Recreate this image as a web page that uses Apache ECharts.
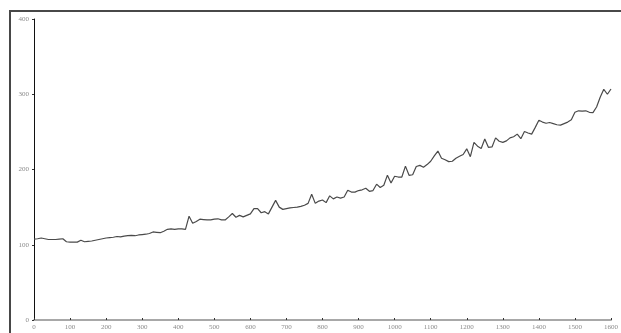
<!DOCTYPE html>
<html>
<head>
<meta charset="utf-8">
<style>
  html, body { margin: 0; padding: 0; background: #fff; }
  #chart { width: 621px; height: 333px; }
</style>
<script src="https://cdn.jsdelivr.net/npm/echarts@6/dist/echarts.min.js"></script>
</head>
<body>
<div id="chart"></div>
<script>
// Sample positions along the horizontal axis
const xValues = [
  0, 10, 20, 30, 40, 50, 60, 70, 80, 90,
  100, 110, 120, 130, 140, 150, 160, 170, 180, 190,
  200, 210, 220, 230, 240, 250, 260, 270, 280, 290,
  300, 310, 320, 330, 340, 350, 360, 370, 380, 390,
  400, 410, 420, 430, 440, 450, 460, 470, 480, 490,
  500, 510, 520, 530, 540, 550, 560, 570, 580, 590,
  600, 610, 620, 630, 640, 650, 660, 670, 680, 690,
  700, 710, 720, 730, 740, 750, 760, 770, 780, 790,
  800, 810, 820, 830, 840, 850, 860, 870, 880, 890,
  900, 910, 920, 930, 940, 950, 960, 970, 980, 990,
  1000, 1010, 1020, 1030, 1040, 1050, 1060, 1070, 1080, 1090,
  1100, 1110, 1120, 1130, 1140, 1150, 1160, 1170, 1180, 1190,
  1200, 1210, 1220, 1230, 1240, 1250, 1260, 1270, 1280, 1290,
  1300, 1310, 1320, 1330, 1340, 1350, 1360, 1370, 1380, 1390,
  1400, 1410, 1420, 1430, 1440, 1450, 1460, 1470, 1480, 1490,
  1500, 1510, 1520, 1530, 1540, 1550, 1560, 1570, 1580, 1590,
  1600
];

// Measured values at each position
const yValues = [
  107.6, 108, 109, 108, 107, 107, 107, 107.5, 108, 104,
  103.5, 103.5, 103.5, 106, 104, 104.5, 105, 106, 107, 108,
  109, 109.5, 110, 111, 110.5, 111.5, 112, 112.5, 112, 113,
  113.5, 114, 115, 117, 116.5, 116, 118, 120.5, 121, 120.5,
  121, 121, 120.5, 138, 128.5, 131, 134, 133.5, 133, 133,
  134, 134.5, 133, 133, 137, 141.5, 136.5, 139, 137, 139,
  141, 148, 148, 142.5, 144, 141, 150, 159, 150, 147,
  148, 149, 149.5, 150, 151, 152.5, 155, 167, 155, 158,
  159.5, 156, 165, 161, 163.5, 162, 163.5, 172.5, 170, 170,
  172, 173, 175, 171, 172, 180.5, 176, 179, 192.5, 182,
  191, 190, 190, 204.5, 192.3, 193, 204, 205.5, 203, 206.5,
  211, 218, 224.5, 215, 213, 210.5, 211, 215, 217.5, 220,
  227.5, 217, 236, 231, 228, 240.5, 229.5, 230, 242, 237.5,
  236, 238, 242, 243.5, 247, 241, 250.5, 248.5, 247, 256,
  265.5, 263, 261.5, 262.5, 261, 259.5, 259, 261, 263, 266,
  276, 278, 277.5, 278, 276, 275.5, 283, 296, 306.5, 300,
  307
];

// Axis ranges and tick spacing
const xTicks = { min: 0, max: 1600, interval: 100 };
const yTicks = { min: 0, max: 400, interval: 100 };

const points = xValues.map((x, i) => [x, yValues[i]]);

const labelFont = {
  color: '#8a8a8a',
  fontFamily: 'Liberation Serif, DejaVu Serif, serif',
  fontSize: 7,
  formatter: (v) => String(v)
};

const chart = echarts.init(document.getElementById('chart'), null, { renderer: 'canvas' });

chart.setOption({
  backgroundColor: '#ffffff',
  animation: false,
  grid: { left: 34, right: 8, top: 19, bottom: 13, containLabel: false },
  graphic: [
    {
      // outer frame; only its top and left edges fall inside the canvas
      type: 'rect',
      shape: { x: 10, y: 11, width: 800, height: 500 },
      style: { fill: 'none', stroke: '#484848', lineWidth: 2 },
      silent: true,
      z: 0
    }
  ],
  xAxis: {
    type: 'value',
    min: xTicks.min,
    max: xTicks.max,
    interval: xTicks.interval,
    axisLine: { show: true, lineStyle: { color: '#a8a8a8', width: 2 } },
    axisTick: { show: true, inside: true, length: 2, lineStyle: { color: '#333', width: 1 } },
    axisLabel: Object.assign({ margin: 4 }, labelFont),
    splitLine: { show: false }
  },
  yAxis: {
    type: 'value',
    min: yTicks.min,
    max: yTicks.max,
    interval: yTicks.interval,
    axisLine: { show: true, lineStyle: { color: '#111', width: 1 } },
    axisTick: { show: true, length: 2, lineStyle: { color: '#333', width: 1 } },
    axisLabel: Object.assign({ margin: 5 }, labelFont),
    splitLine: { show: false }
  },
  series: [
    {
      type: 'line',
      data: points,
      showSymbol: false,
      symbol: 'none',
      lineStyle: { color: '#4a4a4a', width: 1.2 },
      z: 3
    }
  ]
});
</script>
</body>
</html>
